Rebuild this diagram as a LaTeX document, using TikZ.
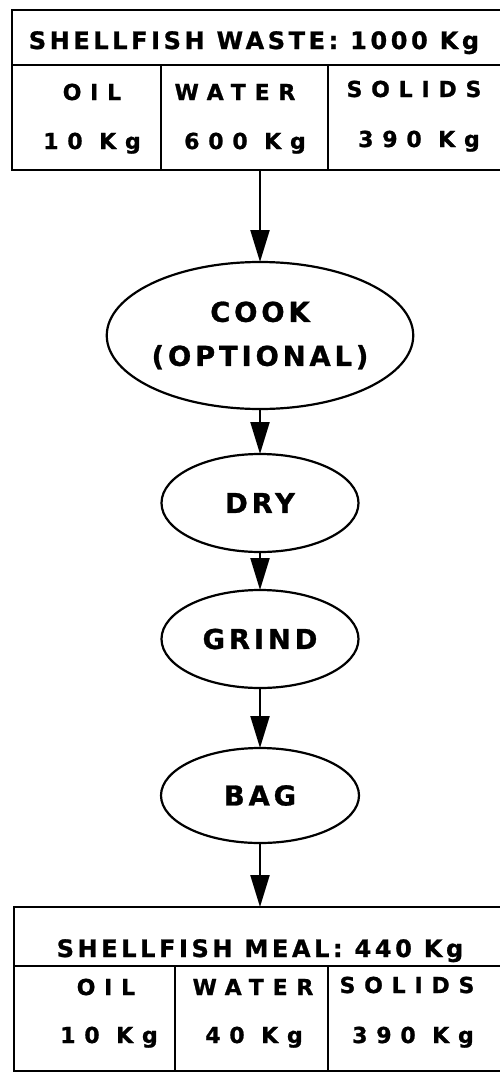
\documentclass[tikz,border=0pt]{standalone}
\usepackage{fontspec}
\setmainfont{DejaVu Sans}
\newfontfamily\titlefont[LetterSpace=15, FakeBold=1]{DejaVu Sans}
\newfontfamily\cellfont[LetterSpace=40, FakeBold=1]{DejaVu Sans}
\newfontfamily\stepfont[LetterSpace=14, FakeBold=1]{DejaVu Sans}
\usetikzlibrary{shapes.geometric, arrows.meta}

\begin{document}
\begin{tikzpicture}[x=1pt, y=-1pt, line width=2.2pt,
  proc/.style={draw, ellipse, inner sep=0pt, outer sep=0pt, align=center,
    font=\stepfont\bfseries\fontsize{27.4}{44}\selectfont},
  cell/.style={draw, rectangle, inner sep=0pt, outer sep=0pt, anchor=north west},
  ttl/.style={anchor=base, inner sep=0pt, font=\titlefont\bfseries\fontsize{24}{28}\selectfont},
  val/.style={anchor=base, inner sep=0pt, font=\cellfont\bfseries\fontsize{22}{26}\selectfont},
  flow/.style={-{Triangle[length=32pt, width=19pt]}},
]
\useasboundingbox (0,0) rectangle (499,1073);

% input: shellfish waste (right edge runs off the page)
\node[cell, minimum width=489pt, minimum height=55pt] (wastehead) at (12,10) {};
\node[cell, minimum width=149pt, minimum height=105pt] (wasteoil) at (12,65) {};
\node[cell, minimum width=167pt, minimum height=105pt] (wastewater) at (161,65) {};
\node[cell, minimum width=173pt, minimum height=105pt] (wastesolids) at (328,65) {};
\node[ttl] (wastetitle) at (254,49) {SHELLFISH WASTE: 1000 Kg};
\foreach \tag/\xa/\ya/\txta/\xb/\yb/\txtb in
  {oil/92/100/OIL/92/149/10 Kg,
   water/235/100/WATER/245/149/600 Kg,
   solids/414/97/SOLIDS/419/147/390 Kg}{
  \node[val] (waste\tag name) at (\xa,\ya) {\txta};
  \node[val] (waste\tag mass) at (\xb,\yb) {\txtb};
}
\coordinate (wasteout) at (260,170);

% process steps
\node[proc, minimum width=292pt, minimum height=147pt] (cook) at (260,335.5) {COOK\\(OPTIONAL)};
\node[proc, minimum width=197pt, minimum height=98pt] (dry) at (260,503) {DRY};
\node[proc, minimum width=197pt, minimum height=98pt] (grind) at (260,639) {GRIND};
\node[proc, minimum width=198pt, minimum height=95pt] (bag) at (260,795.5) {BAG};

% output: shellfish meal
\node[cell, minimum width=487pt, minimum height=59pt] (mealhead) at (14,907) {};
\node[cell, minimum width=161pt, minimum height=105pt] (mealoil) at (14,966) {};
\node[cell, minimum width=153pt, minimum height=105pt] (mealwater) at (175,966) {};
\node[cell, minimum width=173pt, minimum height=105pt] (mealsolids) at (328,966) {};
\node[ttl] (mealtitle) at (260,957) {SHELLFISH MEAL: 440 Kg};
\foreach \tag/\xa/\ya/\txta/\xb/\yb/\txtb in
  {oil/106/995/OIL/109/1043/10 Kg,
   water/253/995/WATER/254/1043/40 Kg,
   solids/407/993/SOLIDS/413/1043/390 Kg}{
  \node[val] (meal\tag name) at (\xa,\ya) {\txta};
  \node[val] (meal\tag mass) at (\xb,\yb) {\txtb};
}
\coordinate (mealin) at (260,907);

% flow
\draw[flow] (wasteout) -- (cook.north);
\draw[flow] (cook) -- (dry);
\draw[flow] (dry) -- (grind);
\draw[flow] (grind) -- (bag);
\draw[flow] (bag) -- (mealin);
\end{tikzpicture}
\end{document}
